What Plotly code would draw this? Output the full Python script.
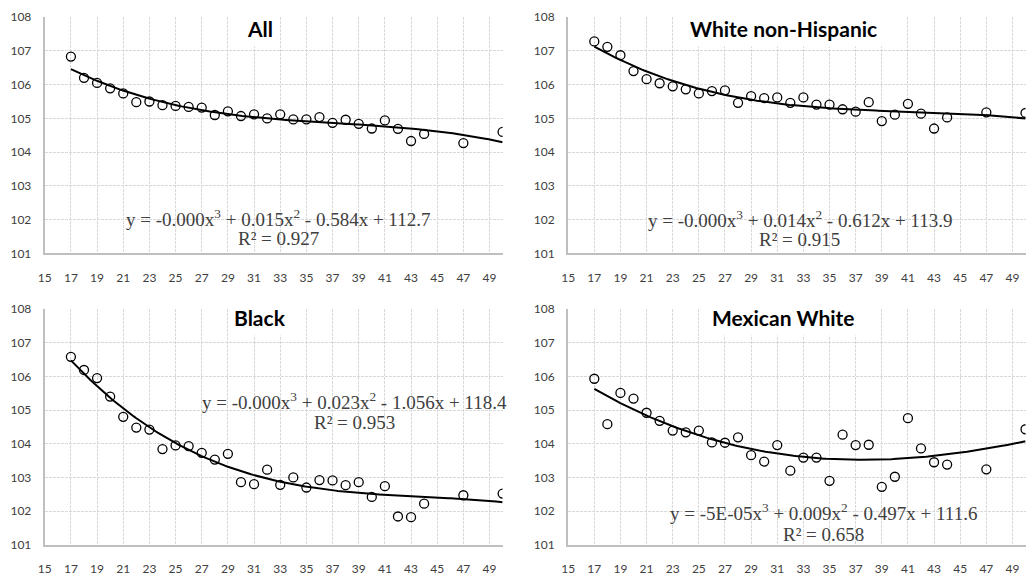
import numpy as np
import plotly.graph_objects as go

ages = [17, 18, 19, 20, 21, 22, 23, 24, 25, 26, 27, 28, 29, 30, 31, 32, 33, 34, 35, 36,
        37, 38, 39, 40, 41, 42, 43, 44, 47, 50]

all_vals = [106.83, 106.20, 106.05, 105.89, 105.74, 105.48, 105.50, 105.39, 105.37, 105.34,
            105.32, 105.10, 105.21, 105.07, 105.12, 105.00, 105.12, 104.97, 104.97, 105.04,
            104.87, 104.96, 104.84, 104.70, 104.94, 104.69, 104.33, 104.54, 104.27, 104.60]

white_nh = [107.28, 107.12, 106.87, 106.40, 106.16, 106.04, 105.95, 105.86, 105.74, 105.81,
            105.83, 105.46, 105.66, 105.60, 105.62, 105.46, 105.62, 105.41, 105.41, 105.27,
            105.20, 105.48, 104.92, 105.11, 105.43, 105.14, 104.70, 105.03, 105.18, 105.16]

black = [106.58, 106.19, 105.95, 105.40, 104.80, 104.48, 104.42, 103.84, 103.95, 103.93,
         103.73, 103.53, 103.70, 102.86, 102.80, 103.23, 102.78, 103.00, 102.70, 102.92,
         102.91, 102.77, 102.86, 102.42, 102.74, 101.84, 101.82, 102.22, 102.47, 102.52]

mexican_white = [105.93, 104.58, 105.51, 105.34, 104.92, 104.68, 104.39, 104.34, 104.39, 104.04,
                 104.03, 104.19, 103.66, 103.47, 103.96, 103.20, 103.59, 103.59, 102.90, 104.27,
                 103.96, 103.97, 102.72, 103.02, 104.76, 103.86, 103.45, 103.38, 103.24, 104.43]

titles = ["All", "White non-Hispanic", "Black", "Mexican White"]
equations = [
    "y = -0.000x<sup>3</sup> + 0.015x<sup>2</sup> - 0.584x + 112.7",
    "y = -0.000x<sup>3</sup> + 0.014x<sup>2</sup> - 0.612x + 113.9",
    "y = -0.000x<sup>3</sup> + 0.023x<sup>2</sup> - 1.056x + 118.4",
    "y = -5E-05x<sup>3</sup> + 0.009x<sup>2</sup> - 0.497x + 111.6",
]
r2_labels = ["R² = 0.927", "R² = 0.915", "R² = 0.953", "R² = 0.658"]

x_ticks = list(range(15, 50, 2))
y_ticks = list(range(101, 109))

W, H = 1031, 581
def px(x):
    return x / W
def py(y):
    return 1 - y / H

series = [all_vals, white_nh, black, mexican_white]
x_domains = [(38, 499), (565, 1025.5), (38, 499), (565, 1025.5)]
y_domains = [(9.3, 252), (9.3, 252), (309, 551), (309, 551)]
title_pos = [(255, 21), (782, 21), (255, 318), (782, 318)]
eq_pos = [(273, 216, 237), (798, 217, 238), (350, 403, 425), (822, 517, 540)]

fig = go.Figure()
layout = dict(
    width=W, height=H, margin=dict(l=0, r=0, t=0, b=0),
    paper_bgcolor="white", plot_bgcolor="white", showlegend=False,
    annotations=[],
)

tick_font = dict(family="Lato", size=12, color="#404040")

for i, vals in enumerate(series):
    n = i + 1
    xa = "x" if n == 1 else f"x{n}"
    ya = "y" if n == 1 else f"y{n}"
    coef = np.polyfit(ages, vals, 3)
    xs = np.linspace(min(ages), max(ages), 200)
    fig.add_trace(go.Scatter(x=xs, y=np.polyval(coef, xs), mode="lines",
                             line=dict(color="black", width=2), xaxis=xa, yaxis=ya,
                             hoverinfo="skip"))
    fig.add_trace(go.Scatter(x=ages, y=vals, mode="markers",
                             marker=dict(symbol="circle-open", size=9, color="black",
                                         line=dict(width=1.3, color="black")),
                             xaxis=xa, yaxis=ya))
    xd = x_domains[i]
    yd = y_domains[i]
    axkey_x = "xaxis" if n == 1 else f"xaxis{n}"
    axkey_y = "yaxis" if n == 1 else f"yaxis{n}"
    layout[axkey_x] = dict(
        domain=[px(xd[0]), px(xd[1])], range=[15, 50], anchor=ya,
        tickmode="array", tickvals=x_ticks, ticktext=[str(t) for t in x_ticks],
        showgrid=True, gridcolor="#d9d9d9", griddash="3px,1px", gridwidth=1,
        showline=True, linecolor="#bfbfbf", linewidth=2, zeroline=False,
        ticks="outside", ticklen=12, tickcolor="rgba(0,0,0,0)", tickfont=tick_font,
    )
    layout[axkey_y] = dict(
        domain=[py(yd[1]), py(yd[0])], range=[101, 108], anchor=xa,
        tickmode="array", tickvals=y_ticks, ticktext=[str(t) for t in y_ticks],
        showgrid=True, gridcolor="#d9d9d9", griddash="3px,1px", gridwidth=1,
        showline=True, linecolor="#bfbfbf", linewidth=2, zeroline=False,
        ticks="outside", ticklen=9, tickcolor="rgba(0,0,0,0)", tickfont=tick_font,
    )
    tx, ty = title_pos[i]
    layout["annotations"].append(dict(
        text=f"<b>{titles[i]}</b>", x=px(tx), y=py(ty), xref="paper", yref="paper",
        showarrow=False, xanchor="center", yanchor="middle",
        font=dict(family="Lato", size=21, color="black"),
        bgcolor="white", borderpad=5,
    ))
    ex, ey, ry = eq_pos[i]
    layout["annotations"].append(dict(
        text=equations[i], x=px(ex), y=py(ey), xref="paper", yref="paper",
        showarrow=False, xanchor="center", yanchor="middle",
        font=dict(family="Liberation Serif", size=19, color="#404040"),
    ))
    layout["annotations"].append(dict(
        text=r2_labels[i], x=px(ex), y=py(ry), xref="paper", yref="paper",
        showarrow=False, xanchor="center", yanchor="middle",
        font=dict(family="Liberation Serif", size=19, color="#404040"),
    ))

fig.update_layout(**layout)
fig.write_html("out.html")
